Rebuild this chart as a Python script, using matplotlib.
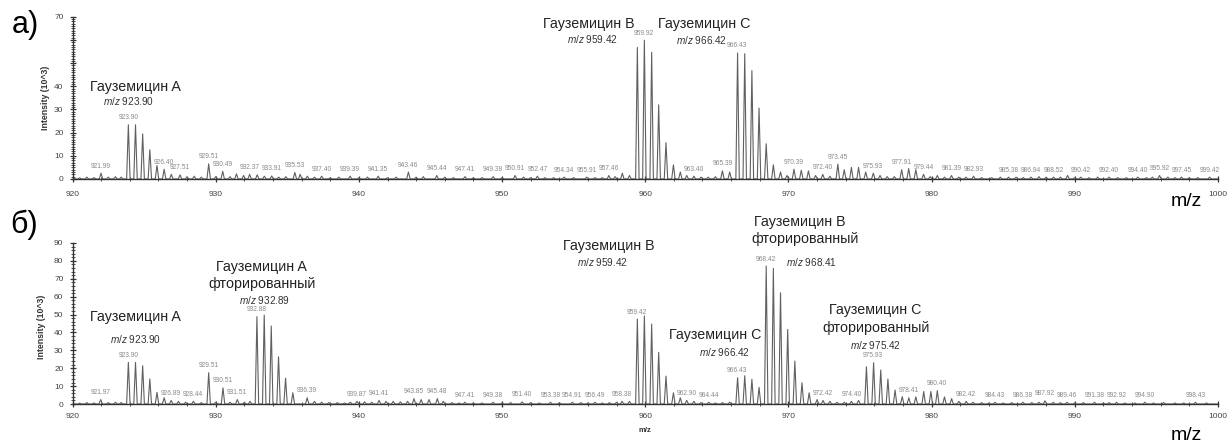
import matplotlib
matplotlib.use("Agg")
import matplotlib.pyplot as plt
from matplotlib.ticker import MultipleLocator
import numpy as np

plt.rcParams['font.family'] = ['Liberation Sans', 'DejaVu Sans']
plt.rcParams['mathtext.fontset'] = 'custom'
plt.rcParams['mathtext.it'] = 'Liberation Sans:italic'
plt.rcParams['mathtext.rm'] = 'Liberation Sans'

# ---- panel a) peak list (m/z, intensity x10^3)
top_mz = [920.5, 921.0, 921.5, 921.99, 922.5, 923.0, 923.4,
          923.90, 924.40, 924.90, 925.40, 925.90, 926.40, 926.90, 927.51, 928.0, 928.5, 929.0,
          929.51, 930.0, 930.49, 931.0, 931.45, 931.95, 932.37, 932.9, 933.4, 933.91, 934.4, 934.9,
          935.53, 935.9, 936.4, 936.9, 937.40, 938.0, 938.6, 939.39, 940.0, 940.6, 941.35, 942.0,
          942.6, 943.46, 944.0, 944.5, 945.44, 946.0, 946.6, 947.41, 948.0, 948.6, 949.38, 950.0,
          950.91, 951.5, 952.0, 952.47, 953.0, 953.6, 954.34, 955.0, 955.91, 956.5, 957.0, 957.46,
          957.9, 958.4, 958.9,
          959.45, 959.94, 960.45, 960.94, 961.45, 961.97, 962.45, 962.9, 963.40, 963.9, 964.4, 964.9,
          965.39, 965.9,
          966.45, 966.95, 967.45, 967.95, 968.45, 968.95, 969.45, 969.9, 970.39, 970.9, 971.4, 971.9,
          972.40, 972.9, 973.45, 973.9, 974.4, 974.9, 975.4, 975.93, 976.4, 976.9, 977.4, 977.91,
          978.4, 978.9, 979.44, 979.9, 980.4, 980.9, 981.39, 981.9, 982.4, 982.93, 983.5, 984.2,
          984.8, 985.38, 985.9, 986.4, 986.94, 987.5, 988.0, 988.52, 989.0, 989.5, 990.0, 990.42,
          991.0, 991.6, 992.40, 993.0, 993.6, 994.40, 995.0, 995.42, 995.92, 996.5, 997.0, 997.45,
          998.0, 998.6, 999.42]
top_int = [0.5, 0.8, 0.6, 2.5, 0.8, 1.0, 0.8,
           23.4, 23.4, 19.5, 12.6, 5.8, 4.2, 2.0, 1.8, 1.0, 1.2, 0.8,
           6.5, 1.0, 3.3, 1.0, 2.2, 1.5, 2.0, 1.8, 1.2, 1.3, 0.8, 1.0,
           2.8, 2.0, 1.2, 0.8, 1.2, 0.6, 0.8, 1.2, 0.6, 0.8, 1.2, 0.6,
           0.8, 3.0, 0.8, 1.0, 1.5, 0.8, 0.6, 1.0, 0.6, 0.6, 1.0, 0.6,
           1.5, 0.8, 0.6, 1.2, 0.6, 0.6, 0.8, 0.6, 0.8, 0.6, 0.6, 1.5,
           1.0, 2.5, 1.5,
           56.8, 59.9, 54.7, 32.0, 15.7, 6.1, 3.0, 1.5, 1.2, 0.8, 0.8, 1.0,
           3.5, 3.0,
           54.4, 54.1, 46.8, 30.6, 15.2, 6.1, 3.0, 1.5, 4.2, 3.8, 3.5, 1.5,
           2.0, 1.2, 6.4, 4.0, 5.0, 5.0, 3.0, 2.5, 1.5, 1.0, 1.0, 4.0,
           4.5, 4.0, 2.0, 1.0, 1.5, 0.8, 1.5, 0.8, 0.8, 1.2, 0.6, 0.6,
           0.8, 0.8, 0.8, 0.6, 0.8, 1.0, 0.8, 0.8, 0.8, 1.5, 0.6, 0.8,
           0.6, 0.8, 0.8, 0.6, 0.6, 0.8, 0.6, 0.8, 1.5, 0.8, 0.6, 0.8,
           0.6, 0.6, 0.8]
top_labels = ["921.99", "923.90", "926.40", "927.51", "929.51", "930.49", "932.37", "933.91",
              "935.53", "937.40", "939.39", "941.35", "943.46", "945.44", "947.41", "949.38",
              "950.91", "952.47", "954.34", "955.91", "957.46", "959.92", "963.40", "965.39",
              "966.43", "970.39", "972.40", "973.45", "975.93", "977.91", "979.44", "981.39",
              "982.93", "985.38", "986.94", "988.52", "990.42", "992.40", "994.40", "995.92",
              "997.45", "999.42"]

# ---- panel б) peak list
bot_mz = [920.5, 921.0, 921.5, 921.97, 922.5, 923.0, 923.4,
          923.90, 924.40, 924.90, 925.40, 925.90, 926.40, 926.89, 927.4, 927.9, 928.44, 929.0,
          929.51, 930.0, 930.51, 931.0, 931.51, 932.0, 932.4,
          932.88, 933.39, 933.88, 934.39, 934.88, 935.39, 936.39, 936.9, 937.4, 937.9, 938.5,
          939.0, 939.4, 939.87, 940.4, 940.9, 941.41, 941.9, 942.4, 942.9, 943.4, 943.85, 944.35,
          944.9, 945.48, 945.9, 946.5, 947.0, 947.41, 948.0, 948.6, 949.38, 950.0, 950.6, 951.40,
          952.0, 952.6, 953.38, 954.0, 954.91, 955.5, 956.0, 956.49, 957.0, 957.5, 958.0, 958.38,
          958.9,
          959.45, 959.94, 960.45, 960.94, 961.45, 961.97, 962.45, 962.90, 963.4, 963.9, 964.44,
          964.9, 965.4, 965.9,
          966.45, 966.95, 967.45, 967.95,
          968.45, 968.95, 969.45, 969.95, 970.45, 970.95, 971.45, 972.0, 972.42, 972.9, 973.4,
          973.9, 974.40, 974.9,
          975.45, 975.95, 976.45, 976.95, 977.45, 977.95, 978.41, 978.9, 979.45, 979.95, 980.40,
          980.9, 981.4, 981.9, 982.42, 982.9, 983.5, 984.0, 984.43, 985.0, 985.6, 986.38, 987.0,
          987.5, 987.92, 988.5, 989.0, 989.46, 990.0, 990.6, 991.38, 992.0, 992.4, 992.92, 993.5,
          994.2, 994.90, 995.5, 996.2, 997.0, 997.6, 998.43, 999.2]
bot_int = [0.5, 0.8, 0.6, 2.5, 0.8, 1.0, 0.8,
           23.3, 23.3, 21.4, 14.0, 6.5, 3.5, 2.0, 1.5, 1.0, 1.5, 0.8,
           17.5, 1.0, 9.0, 1.0, 2.5, 1.0, 1.5,
           48.8, 49.7, 43.6, 26.4, 14.4, 6.3, 3.5, 1.5, 1.0, 0.8, 0.8,
           0.6, 1.0, 1.5, 1.2, 1.0, 2.0, 1.5, 1.5, 1.2, 1.5, 3.0, 2.5,
           2.5, 3.0, 1.5, 0.8, 0.6, 1.0, 0.6, 0.6, 1.0, 0.6, 0.8, 1.2,
           0.8, 0.6, 1.0, 0.8, 1.0, 0.8, 0.6, 1.0, 0.6, 0.8, 1.0, 1.5,
           1.5,
           47.5, 49.2, 44.7, 28.9, 15.6, 6.3, 3.5, 2.0, 1.5, 0.8, 1.0,
           0.6, 0.8, 1.0,
           14.7, 15.8, 13.8, 9.3,
           77.1, 75.8, 62.2, 41.7, 24.0, 11.9, 6.3, 2.5, 2.0, 1.5, 1.0,
           1.0, 1.5, 2.0,
           20.8, 23.1, 19.0, 14.0, 7.8, 4.1, 3.5, 4.0, 7.0, 7.0, 7.5,
           4.0, 3.0, 1.5, 1.5, 1.0, 0.8, 0.6, 1.0, 0.6, 0.8, 1.0, 0.8,
           1.0, 1.8, 1.0, 0.8, 1.0, 0.6, 0.8, 1.0, 0.6, 0.8, 1.0, 0.6,
           0.6, 1.0, 0.6, 0.8, 0.6, 0.6, 1.0, 0.6]
bot_labels = ["921.97", "923.90", "926.89", "928.44", "929.51", "930.51", "931.51", "932.88",
              "936.39", "939.87", "941.41", "943.85", "945.48", "947.41", "949.38", "951.40",
              "953.38", "954.91", "956.49", "958.38", "959.42", "962.90", "964.44", "966.43",
              "968.42", "972.42", "974.40", "975.93", "978.41", "980.40", "982.42", "984.43",
              "986.38", "987.92", "989.46", "991.38", "992.92", "994.90", "998.43"]

LINE = '#606060'
LABEL_GRAY = '#8a8a8a'
NAME_FONT = 10.3
MZ_FONT = 7.2


def profile(mz, inten, half=0.12):
    xs, ys = [920.0], [0.0]
    for m, h in sorted(zip(mz, inten)):
        xs += [m - half, m, m + half]
        ys += [0.0, h, 0.0]
    xs.append(1000.0)
    ys.append(0.0)
    return xs, ys


def peak_labels(ax, labels, mz, inten):
    for s in labels:
        x = float(s)
        near = [h for m, h in zip(mz, inten) if abs(m - x) < 0.35]
        y = max(near) if near else 0.5
        ax.annotate(s, (x, y), xytext=(0, 2.5), textcoords='offset points',
                    ha='center', va='bottom', fontsize=4.8, color=LABEL_GRAY)


def style_axis(ax, ymax, ystep, yminor, xpad):
    ax.set_xlim(920, 1000)
    ax.set_ylim(0, ymax)
    for side in ['top', 'right']:
        ax.spines[side].set_visible(False)
    for side in ['left', 'bottom']:
        ax.spines[side].set_color('#333333')
        ax.spines[side].set_linewidth(1.0)
    ax.xaxis.set_major_locator(MultipleLocator(10))
    ax.xaxis.set_minor_locator(MultipleLocator(2))
    ax.yaxis.set_major_locator(MultipleLocator(ystep))
    ax.yaxis.set_minor_locator(MultipleLocator(yminor))
    ax.tick_params(which='major', direction='inout', length=5, width=0.9, color='#333333',
                   labelsize=6, labelcolor='#444444')
    ax.tick_params(which='minor', direction='inout', length=2.5, width=0.6, color='#333333')
    ax.tick_params(axis='x', which='major', pad=xpad)
    ax.tick_params(axis='y', which='major', pad=4)
    ax.set_facecolor('none')


fig = plt.figure(figsize=(12.29, 4.43), dpi=100)
ax1 = fig.add_axes([0.059, 0.596, 0.932, 0.366])
ax2 = fig.add_axes([0.059, 0.088, 0.932, 0.3635])

# ---- panel a)
x, y = profile(top_mz, top_int)
ax1.plot(x, y, color=LINE, lw=0.8)
style_axis(ax1, 70, 10, 1, 6)
ax1.set_yticks(np.arange(0, 71, 10))
ax1.set_yticklabels(['0', '10', '20', '30', '40', '', '', '70'])
peak_labels(ax1, top_labels, top_mz, top_int)
ax1.text(-0.024, 0.5, 'Intensity (10^3)', transform=ax1.transAxes, rotation=90,
         ha='center', va='center', fontsize=6.3, fontweight='bold', color='#333333')

ax1.text(924.37, 39.8, 'Гауземицин A', fontsize=NAME_FONT, ha='center', va='center', color='#222222')
ax1.text(923.88, 33.7, r'$\mathit{m/z}$ 923.90', fontsize=MZ_FONT, ha='center', va='center', color='#333333')
ax1.text(956.07, 67.0, 'Гауземицин B', fontsize=NAME_FONT, ha='center', va='center', color='#222222')
ax1.text(956.35, 60.5, r'$\mathit{m/z}$ 959.42', fontsize=MZ_FONT, ha='center', va='center', color='#333333')
ax1.text(964.1, 67.0, 'Гауземицин C', fontsize=NAME_FONT, ha='center', va='center', color='#222222')
ax1.text(963.9, 60.1, r'$\mathit{m/z}$ 966.42', fontsize=MZ_FONT, ha='center', va='center', color='#333333')

# ---- panel б)
x, y = profile(bot_mz, bot_int)
ax2.plot(x, y, color=LINE, lw=0.8)
style_axis(ax2, 90, 10, 2, 4)
peak_labels(ax2, bot_labels, bot_mz, bot_int)
ax2.text(-0.027, 0.48, 'Intensity (10^3)', transform=ax2.transAxes, rotation=90,
         ha='center', va='center', fontsize=6.3, fontweight='bold', color='#333333')

ax2.text(924.37, 48.6, 'Гауземицин A', fontsize=NAME_FONT, ha='center', va='center', color='#222222')
ax2.text(924.43, 36.3, r'$\mathit{m/z}$ 923.90', fontsize=MZ_FONT, ha='center', va='center', color='#333333')
ax2.text(933.23, 76.4, 'Гауземицин A', fontsize=NAME_FONT, ha='center', va='center', color='#222222')
ax2.text(933.23, 67.1, 'фторированный', fontsize=NAME_FONT, ha='center', va='center', color='#222222')
ax2.text(933.44, 58.1, r'$\mathit{m/z}$ 932.89', fontsize=MZ_FONT, ha='center', va='center', color='#333333')
ax2.text(957.47, 88.3, 'Гауземицин B', fontsize=NAME_FONT, ha='center', va='center', color='#222222')
ax2.text(956.98, 79.4, r'$\mathit{m/z}$ 959.42', fontsize=MZ_FONT, ha='center', va='center', color='#333333')
ax2.text(964.87, 38.5, 'Гауземицин C', fontsize=NAME_FONT, ha='center', va='center', color='#222222')
ax2.text(965.56, 29.1, r'$\mathit{m/z}$ 966.42', fontsize=MZ_FONT, ha='center', va='center', color='#333333')
ax2.text(970.8, 101.7, 'Гауземицин B', fontsize=NAME_FONT, ha='center', va='center', color='#222222')
ax2.text(971.15, 92.2, 'фторированный', fontsize=NAME_FONT, ha='center', va='center', color='#222222')
ax2.text(971.6, 79.4, r'$\mathit{m/z}$ 968.41', fontsize=MZ_FONT, ha='center', va='center', color='#333333')
ax2.text(976.05, 52.5, 'Гауземицин C', fontsize=NAME_FONT, ha='center', va='center', color='#222222')
ax2.text(976.1, 42.5, 'фторированный', fontsize=NAME_FONT, ha='center', va='center', color='#222222')
ax2.text(976.1, 33.0, r'$\mathit{m/z}$ 975.42', fontsize=MZ_FONT, ha='center', va='center', color='#333333')

# ---- figure-level labels
fig.text(0.0203, 0.944, 'а)', fontsize=22, ha='center', va='center')
fig.text(0.0195, 0.492, 'б)', fontsize=22, ha='center', va='center')
fig.text(0.965, 0.546, 'm/z', fontsize=14, ha='center', va='center')
fig.text(0.965, 0.016, 'm/z', fontsize=14, ha='center', va='center')
fig.text(0.525, 0.029, 'm/z', fontsize=5.5, ha='center', va='center', fontweight='bold',
         color='#333333')

fig.savefig('out.png', dpi=100)
